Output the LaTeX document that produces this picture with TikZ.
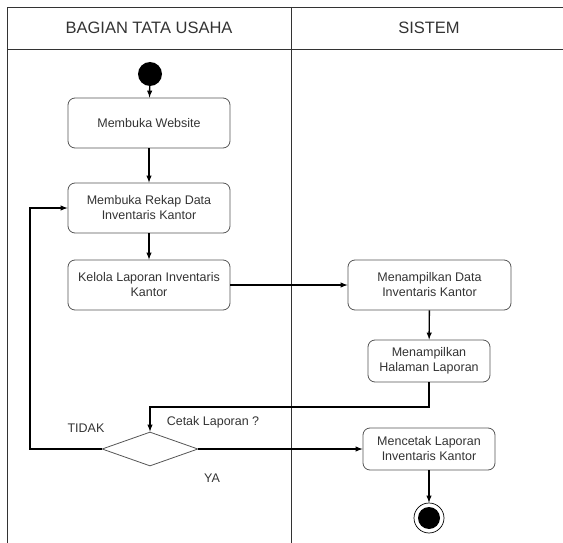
\documentclass[tikz,border=0pt]{standalone}
\usepackage{fontspec}
\setmainfont{Liberation Sans}
\usetikzlibrary{shapes.geometric, positioning, arrows}

\definecolor{linegray}{HTML}{333333}
\definecolor{boxgray}{HTML}{555555}

\begin{document}
\begin{tikzpicture}[
  x=1pt, y=-1pt,
  every node/.style={font=\fontsize{12.5}{15}\selectfont, text=linegray},
  lane/.style={draw=linegray, line width=0.9pt},
  title/.style={font=\fontsize{16.5}{19}\selectfont},
  act/.style={draw=boxgray, rounded corners=7pt, line width=0.8pt, align=center, inner sep=2pt},
  startnode/.style={circle, fill=black, minimum size=24pt, inner sep=0pt},
  endnode/.style={circle, draw=black, line width=0.7pt, minimum size=30pt, inner sep=0pt},
  decision/.style={diamond, draw=boxgray, line width=0.8pt, minimum width=96pt, minimum height=34pt, inner sep=0pt},
  flow/.style={draw=black, line width=1.4pt, -latex}
]
\useasboundingbox (0,0) rectangle (563,543);

% swimlanes
\draw[lane] (7,543) -- (7,7) -- (563,7);
\draw[lane] (7,49) -- (563,49);
\draw[lane] (291,7) -- (291,543);
\node[title] (tu) at (149,28) {BAGIAN TATA USAHA};
\node[title] (sis) at (429,28) {SISTEM};

% activities
\node[startnode] (start) at (150,74) {};
\node[act, minimum width=162pt, minimum height=50pt] (web) at (149,123) {Membuka Website};
\node[act, minimum width=162pt, minimum height=50pt] (rekap) at (149,208) {Membuka Rekap Data\\Inventaris Kantor};
\node[act, minimum width=162pt, minimum height=50pt] (kelola) at (149,285) {Kelola Laporan Inventaris\\Kantor};
\node[act, minimum width=163pt, minimum height=50pt] (tampil) at (429.5,285) {Menampilkan Data\\Inventaris Kantor};
\node[act, minimum width=122pt, minimum height=42pt] (hal) at (429,361) {Menampilkan\\Halaman Laporan};
\node[decision] (cetak) at (150,449) {};
\node[act, minimum width=132pt, minimum height=42pt] (print) at (429,449) {Mencetak Laporan\\Inventaris Kantor};
\node[endnode] (end) at (429,518) {};
\fill[black] (end) circle (11pt);

% labels
\node (q) at (213,422) {Cetak Laporan ?};
\node (tidak) at (86,428) {TIDAK};
\node (ya) at (212,478) {YA};

\coordinate (back) at (30,449);
\coordinate (ret) at (150,407);

\path (start) edge[flow] (web)
(web) edge[flow] (rekap)
(rekap) edge[flow] (kelola)
(kelola) edge[flow] (tampil)
(tampil) edge[flow] (hal)
(cetak) edge[flow] (print)
(print) edge[flow] (end);

\draw[flow] (hal.south) |- (ret) -- (cetak.north);
\draw[flow] (cetak.west) -- (back) |- (rekap.west);

\end{tikzpicture}
\end{document}
